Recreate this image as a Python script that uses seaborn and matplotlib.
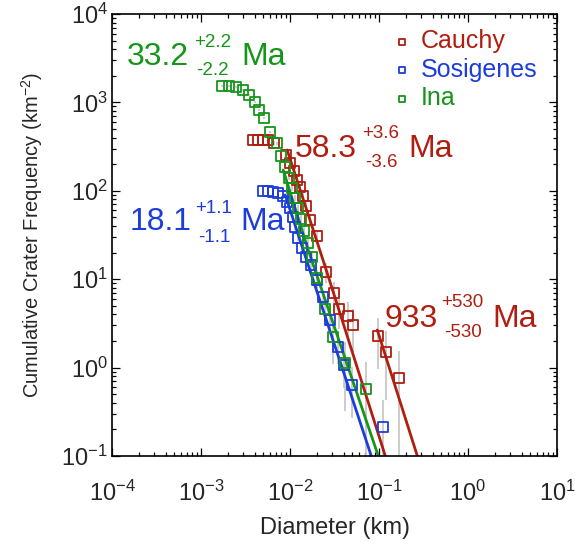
import numpy as np
import seaborn as sns
import matplotlib.pyplot as plt

# crater size-frequency data (diameter in km, cumulative frequency in km^-2)
cauchy_d = [0.00386, 0.00439, 0.00499, 0.00569, 0.00665, 0.00906, 0.01005, 0.01115,
            0.01205, 0.01302, 0.01408, 0.01521, 0.01688, 0.02023, 0.02554, 0.03141,
            0.03575, 0.04515, 0.05140, 0.09820, 0.12081, 0.16923]
cauchy_n = [375.5, 375.5, 375.5, 375.5, 347.3, 254.1, 206.3, 167.5, 132.5, 110.4, 87.3,
            67.3, 46.7, 30.8, 12.06, 6.98, 4.60, 3.83, 3.03, 2.28, 1.50, 0.763]

sosigenes_d = [0.00499, 0.00569, 0.00647, 0.00737, 0.00839, 0.00930, 0.01005, 0.01086,
               0.01144, 0.01237, 0.01372, 0.01521, 0.01732, 0.02023, 0.02363, 0.02833,
               0.03485, 0.04071, 0.05007, 0.11179]
sosigenes_n = [99.5, 99.5, 96.9, 94.4, 87.3, 74.7, 63.9, 50.5, 38.9, 29.3, 22.5, 17.8,
               14.5, 9.79, 6.29, 3.46, 1.71, 1.07, 0.636, 0.213]

ina_d = [0.00173, 0.00207, 0.00248, 0.00298, 0.00348, 0.00406, 0.00450, 0.00513,
         0.00599, 0.00718, 0.00796, 0.00883, 0.00980, 0.01059, 0.01144, 0.01237,
         0.01337, 0.01444, 0.01602, 0.01777, 0.02023, 0.02489, 0.03061, 0.04177, 0.07195]
ina_n = [1533, 1533, 1494, 1381, 1212, 1010, 820, 666, 463, 347, 248, 186, 140, 108,
         82.9, 63.9, 48.0, 35.1, 25.7, 17.8, 10.3, 4.60, 2.22, 1.127, 0.573]

# counting areas (km^2), used for the sqrt(N) error bars
cauchy_area = 1.31
sosigenes_area = 4.7
ina_area = 1.745

# isochron fits
cauchy_fit_d = [0.00930, 0.02554, 0.1177]
cauchy_fit_n = [289.4, 12.71, 0.1]
cauchy_old_fit_d = [0.0957, 0.2697]
cauchy_old_fit_n = [2.663, 0.1]
sosigenes_fit_d = [0.00883, 0.01408, 0.0819]
sosigenes_fit_n = [89.7, 21.4, 0.1]
ina_fit_d = [0.00839, 0.01602, 0.0982]
ina_fit_n = [171.9, 21.4, 0.1]

red = '#b01e10'
blue = '#1c3ddc'
green = '#15961a'

sns.set_theme(style='ticks')
plt.rcParams['font.family'] = ['Liberation Sans', 'DejaVu Sans']
plt.rcParams['mathtext.fontset'] = 'custom'
plt.rcParams['mathtext.rm'] = 'Liberation Sans'
plt.rcParams['mathtext.it'] = 'Liberation Sans:italic'

fig = plt.figure(figsize=(5.75, 5.42), dpi=100)
ax = fig.add_axes([112 / 575, 86 / 542, 445 / 575, 442 / 542])
ax.set_xscale('log')
ax.set_yscale('log')

series = [('Cauchy', cauchy_d, cauchy_n, cauchy_area, red),
          ('Sosigenes', sosigenes_d, sosigenes_n, sosigenes_area, blue),
          ('Ina', ina_d, ina_n, ina_area, green)]

# error bars first so they sit behind everything
for name, d, n, area, col in series:
    n = np.array(n)
    err = np.sqrt(n / area)
    lo = np.minimum(err, n - 1e-3)
    ax.errorbar(d, n, yerr=[lo, err], fmt='none', ecolor='#c8c8c8', elinewidth=1.3, zorder=1)

# fit lines
fits = [(cauchy_fit_d, cauchy_fit_n, red), (cauchy_old_fit_d, cauchy_old_fit_n, red),
        (sosigenes_fit_d, sosigenes_fit_n, blue), (ina_fit_d, ina_fit_n, green)]
for fd, fn, col in fits:
    sns.lineplot(x=fd, y=fn, ax=ax, color=col, lw=2, sort=False, estimator=None,
                 legend=False, zorder=2)

for name, d, n, area, col in series:
    sns.scatterplot(x=d, y=n, ax=ax, marker='s', s=55, facecolor='none', edgecolor=col,
                    linewidth=1.3, label=name, zorder=3)

ax.set_xlim(1e-4, 10)
ax.set_ylim(0.1, 1e4)
ax.tick_params(which='both', direction='in', top=True, right=True, width=0.9, color='black')
ax.tick_params(which='major', length=6)
ax.tick_params(which='minor', length=3)
ax.tick_params(axis='x', which='major', labelsize=17, pad=18)
ax.tick_params(axis='y', which='major', labelsize=17, pad=3)
for sp in ax.spines.values():
    sp.set_linewidth(1.2)
    sp.set_color('black')

ax.set_xlabel('Diameter (km)', fontsize=17, labelpad=8)
ax.set_ylabel('Cumulative Crater Frequency (km$^{-2}$)', fontsize=14.5, labelpad=12)

leg = ax.legend(loc='upper left', bbox_to_anchor=(0.635, 0.965), frameon=False,
                fontsize=18, markerscale=0.6, handlelength=0.6, handletextpad=0.45,
                labelspacing=0.18, borderaxespad=0, borderpad=0, labelcolor='markeredgecolor')


def label(px, py, s, size, color):
    fig.text(px / 575, 1 - py / 542, s, fontsize=size, color=color, ha='left', va='baseline')


# model ages
label(127, 65, '33.2', 23, green)
label(194, 47, '+2.2', 13.5, green)
label(196, 75, '-2.2', 13.5, green)
label(241, 65, 'Ma', 23, green)

label(295, 157, '58.3', 23, red)
label(362, 138, '+3.6', 13.5, red)
label(365, 167, '-3.6', 13.5, red)
label(408, 157, 'Ma', 23, red)

label(130, 230, '18.1', 23, blue)
label(195, 213, '+1.1', 13.5, blue)
label(198, 242, '-1.1', 13.5, blue)
label(240, 230, 'Ma', 23, blue)

label(384, 327, '933', 23, red)
label(441, 307, '+530', 13.5, red)
label(444, 337, '-530', 13.5, red)
label(492, 327, 'Ma', 23, red)

fig.savefig('out.png', dpi=100)
